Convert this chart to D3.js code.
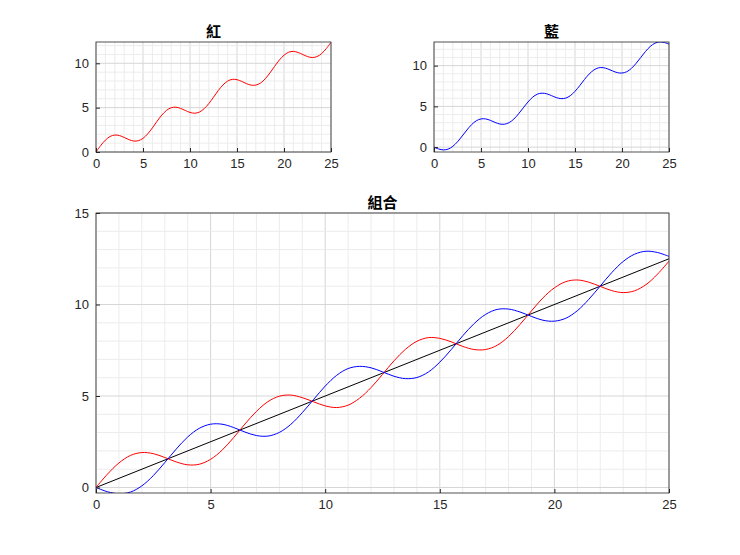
<!DOCTYPE html><html><head><meta charset="utf-8"><script src="https://cdn.jsdelivr.net/npm/d3@7"></script>
<style>body{margin:0;background:#fff}text{font-family:"Liberation Sans",Arial,sans-serif}</style></head><body>
<svg id="c" width="740" height="555"></svg>
<script>
const xs=d3.range(0,25.001,0.5);
const red=[0,.73,1.34,1.75,1.91,1.85,1.64,1.40,1.24,1.27,1.54,2.04,2.72,3.47,4.16,4.69,4.99,5.05,4.91,4.68,4.46,4.37,4.50,4.88,5.46,6.18,6.92,7.55,7.99,8.19,8.15,7.96,7.71,7.54,7.54,7.77,8.25,8.91,9.65,10.36,10.91,11.25,11.34,11.22,10.99,10.76,10.65,10.75,11.09,11.66,12.37];
const blue=[0,-.23,-.34,-.25,.09,.65,1.36,2.10,2.76,3.23,3.46,3.46,3.28,3.03,2.84,2.81,3.01,3.45,4.09,4.82,5.54,6.13,6.50,6.62,6.54,6.32,6.08,5.95,6.01,6.31,6.85,7.54,8.29,8.96,9.46,9.73,9.75,9.59,9.35,9.14,9.09,9.25,9.66,10.28,11.01,11.74,12.35,12.75,12.91,12.84,12.63];
const black=[0,25];const blackY=[0,12.5];
const xTicks=[0,5,10,15,20,25];
const yTicksTop=[0,5,10];const yTicksBot=[0,5,10,15];
const titles=["紅","藍","組合"];
const svg=d3.select("#c");
function panel(x0,x1,y0,y1,ydom,yTicks,title,series){
 const x=d3.scaleLinear([0,25],[x0,x1]),y=d3.scaleLinear(ydom,[y1,y0]);
 const g=svg.append("g");
 g.append("rect").attr("x",x0).attr("y",y0).attr("width",x1-x0).attr("height",y1-y0).attr("fill","#fff");
 d3.range(0,25.01,1).forEach(v=>g.append("line").attr("x1",x(v)).attr("x2",x(v)).attr("y1",y0).attr("y2",y1).attr("stroke",v%5?"#ececec":"#d6d6d6"));
 d3.range(Math.ceil(ydom[0]),ydom[1]+0.01,1).forEach(v=>g.append("line").attr("y1",y(v)).attr("y2",y(v)).attr("x1",x0).attr("x2",x1).attr("stroke",v%5?"#ececec":"#d6d6d6"));
 const clip="cl"+x0+y0;
 svg.append("clipPath").attr("id",clip).append("rect").attr("x",x0).attr("y",y0).attr("width",x1-x0).attr("height",y1-y0);
 series.forEach(s=>g.append("path").attr("clip-path",`url(#${clip})`).attr("d",d3.line().x((d,i)=>x(s.x[i])).y(d=>y(d)).curve(d3.curveCatmullRom)(s.y)).attr("fill","none").attr("stroke",s.c).attr("stroke-width",1));
 const ax=g.append("g").attr("transform",`translate(0,${y1})`).call(d3.axisBottom(x).tickValues(xTicks).tickSizeInner(-4).tickSizeOuter(0).tickPadding(7));
 const ay=g.append("g").attr("transform",`translate(${x0},0)`).call(d3.axisLeft(y).tickValues(yTicks).tickSizeInner(-4).tickSizeOuter(0).tickPadding(7));
 [ax,ay].forEach(a=>{a.select(".domain").remove();a.selectAll("line").attr("stroke","#262626");a.selectAll("text").attr("font-size",13).attr("fill","#262626");});
 g.append("rect").attr("x",x0).attr("y",y0).attr("width",x1-x0).attr("height",y1-y0).attr("fill","none").attr("stroke","#262626").attr("stroke-width",0.8);
 g.append("text").attr("x",(x0+x1)/2).attr("y",y0-5).attr("text-anchor","middle").attr("font-size",15).attr("font-weight","bold").style("font-family","'Noto Sans CJK TC'").text(title);
}
panel(96,331,42,152,[0,12.4],yTicksTop,titles[0],[{x:xs,y:red,c:"#f00"}]);
panel(434,669,42,152,[-0.6,12.9],yTicksTop,titles[1],[{x:xs,y:blue,c:"#00f"}]);
panel(96,669,213,493,[-0.3,15],yTicksBot,titles[2],[{x:black,y:blackY,c:"#000"},{x:xs,y:red,c:"#f00"},{x:xs,y:blue,c:"#00f"}]);
</script></body></html>
